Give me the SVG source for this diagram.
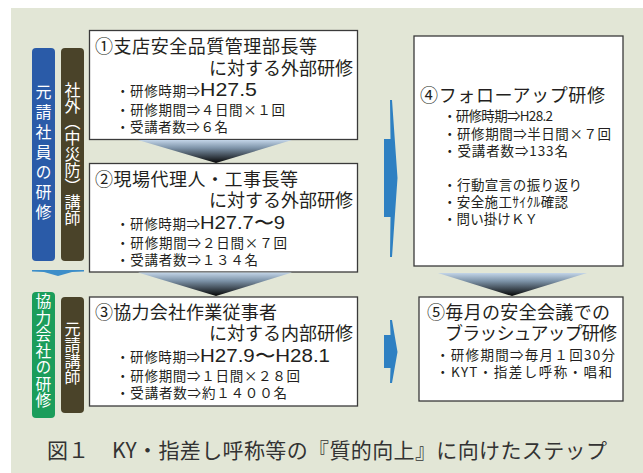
<svg xmlns="http://www.w3.org/2000/svg" width="643" height="473" viewBox="0 0 643 473">
<style>
.box{fill:#fff;stroke:#3a3a3a;stroke-width:1.3}
.t{font-family:"Noto Sans CJK JP","Noto Sans",sans-serif;fill:#231f20}
.title{font-size:18px}
.b{font-size:13.5px}
.lat{font-family:"Liberation Sans",Arial,sans-serif;fill:#231f20;font-size:18px}
.v{font-family:"Noto Sans CJK JP",sans-serif;fill:#fff;font-size:16px;writing-mode:vertical-rl}
.arrow{fill:#2e80c2}
.cap{font-family:"Noto Sans CJK JP",sans-serif;fill:#333;font-size:21px}
</style>
<defs>
<linearGradient id="chev" x1="0" y1="0" x2="0" y2="1">
<stop offset="0" stop-color="#c3d5e8"/>
<stop offset="0.35" stop-color="#7d93a8"/>
<stop offset="1" stop-color="#050505"/>
</linearGradient>
</defs>
<rect x="11" y="8" width="632" height="465" fill="#e2e6d6"/>

<g id="bars">
<g id="bar-motouke">
<rect x="32" y="48" width="23" height="213" rx="4" fill="#2a5ba8"/>
<text class="v" x="43.5" y="84" style="letter-spacing:4px">元請社員の研修</text>
</g>
<g id="bar-shagai">
<rect x="61" y="48" width="23" height="213" rx="4" fill="#4a4329"/>
<text class="v" x="72.5" y="82">社外（中災防）講師</text>
</g>
<g id="bar-kyoryoku">
<rect x="32" y="292" width="23" height="126" rx="4" fill="#1b9d5b"/>
<text class="v" x="43.5" y="293.5" style="letter-spacing:0.7px;font-size:15.8px">協力会社の研修</text>
</g>
<g id="bar-motouke-koshi">
<rect x="61" y="297" width="23" height="116" rx="4" fill="#4a4329"/>
<text class="v" x="72.5" y="321">元請講師</text>
</g>
</g>

<g id="node1">
<rect class="box" x="89.5" y="30.5" width="268" height="109"/>
<text class="t title" x="95" y="53" textLength="222">①支店安全品質管理部長等</text>
<text class="t title" x="209" y="75" textLength="144">に対する外部研修</text>
<text class="t b" x="116" y="96" textLength="84">・研修時期⇒</text>
<text class="lat" x="200" y="96" textLength="57" lengthAdjust="spacingAndGlyphs">H27.5</text>
<text class="t b" x="116" y="115" textLength="169">・研修期間⇒４日間×１回</text>
<text class="t b" x="116" y="132" textLength="112">・受講者数⇒６名</text>
</g>

<g id="node2">
<rect class="box" x="89.5" y="163.5" width="268" height="108.5"/>
<text class="t title" x="95" y="186" textLength="203">②現場代理人・工事長等</text>
<text class="t title" x="209" y="207" textLength="144">に対する外部研修</text>
<text class="t b" x="116" y="229" textLength="84">・研修時期⇒</text>
<text class="lat" x="200" y="229" textLength="85" lengthAdjust="spacingAndGlyphs">H27.7〜9</text>
<text class="t b" x="116" y="248" textLength="171">・研修期間⇒２日間×７回</text>
<text class="t b" x="116" y="265" textLength="142">・受講者数⇒１３４名</text>
</g>

<g id="node3">
<rect class="box" x="89.5" y="297" width="268" height="109"/>
<text class="t title" x="95" y="319" textLength="182">③協力会社作業従事者</text>
<text class="t title" x="209" y="340" textLength="144">に対する内部研修</text>
<text class="t b" x="116" y="362" textLength="84">・研修時期⇒</text>
<text class="lat" x="200" y="362" textLength="130" lengthAdjust="spacingAndGlyphs">H27.9〜H28.1</text>
<text class="t b" x="116" y="381" textLength="184">・研修期間⇒１日間×２８回</text>
<text class="t b" x="116" y="398" textLength="171">・受講者数⇒約１４００名</text>
</g>

<g id="node4">
<rect class="box" x="414" y="36" width="209" height="230"/>
<text class="t title" x="420" y="102" textLength="185">④フォローアップ研修</text>
<text class="t b" x="443" y="121" textLength="110">・研修時期⇒H28.2</text>
<text class="t b" x="443" y="139" textLength="168">・研修期間⇒半日間×７回</text>
<text class="t b" x="443" y="156" textLength="125">・受講者数⇒133名</text>
<text class="t b" x="443" y="190" textLength="139">・行動宣言の振り返り</text>
<text class="t b" x="443" y="207" textLength="125">・安全施工ｻｲｸﾙ確認</text>
<text class="t b" x="443" y="224" textLength="95">・問い掛けＫＹ</text>
</g>

<g id="node5">
<rect class="box" x="419" y="297" width="204" height="104"/>
<text class="t title" x="427" y="319" textLength="183">⑤毎月の安全会議での</text>
<text class="t title" x="445" y="340" textLength="172">ブラッシュアップ研修</text>
<text class="t b" x="436" y="360" textLength="179">・研修期間⇒毎月１回30分</text>
<text class="t b" x="436" y="377" textLength="176">・KYT・指差し呼称・唱和</text>
</g>

<g id="connectors">
<polygon points="138,140 292,140 216,163" fill="url(#chev)"/>
<polygon points="138,272.5 292,272.5 216,296" fill="url(#chev)"/>
<polygon points="438,273 587,273 512,296" fill="url(#chev)"/>
<polygon class="arrow" points="390,100 392,100 397.5,178 392,257 390,257 390.5,217 384,217 384,139 390.5,139"/>
<polygon class="arrow" points="390,320 392,320 397.5,352 392,383 390,383 390.5,368 384,368 384,335 390.5,335"/>
<polygon points="32,270 84,270 84,271.5 72,272 58,276 44,272 32,271.5" fill="#3d8ec9"/>
</g>

<g id="caption">
<text class="cap" x="47" y="458">図１</text>
<text class="cap" x="112" y="458" textLength="495">KY・指差し呼称等の『質的向上』に向けたステップ</text>
</g>
</svg>
